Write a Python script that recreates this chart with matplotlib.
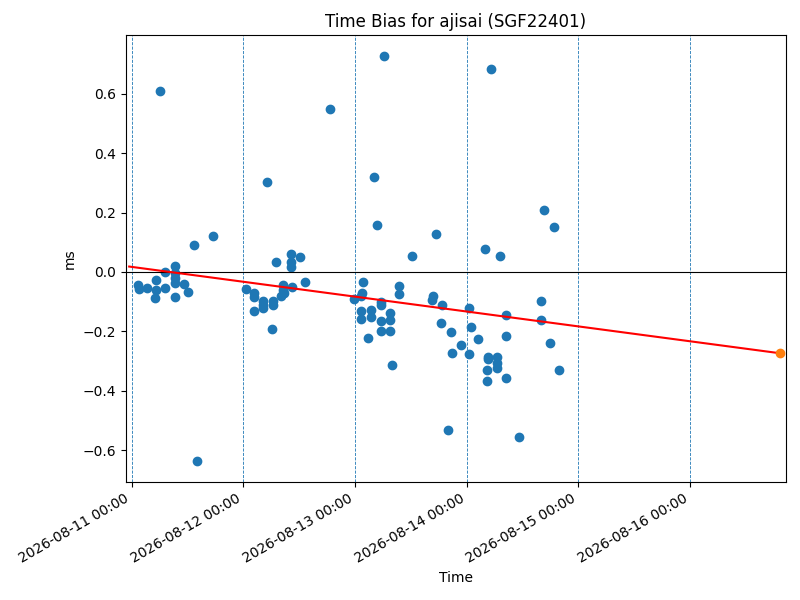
import matplotlib

matplotlib.use("Agg")
import matplotlib.dates as mdates
import matplotlib.pyplot as plt
import numpy as np
import pandas as pd

TITLE = "Time Bias for ajisai (SGF22401)"

obs_times = [
    "2026-08-11 01:18", "2026-08-11 01:38", "2026-08-11 03:26", "2026-08-11 05:13",
    "2026-08-11 05:13", "2026-08-11 05:04", "2026-08-11 06:07", "2026-08-11 07:12",
    "2026-08-11 07:12", "2026-08-11 09:20", "2026-08-11 09:20", "2026-08-11 09:20",
    "2026-08-11 09:20", "2026-08-11 09:20", "2026-08-11 11:17", "2026-08-11 12:04",
    "2026-08-11 13:25", "2026-08-11 14:00", "2026-08-11 17:25",
    "2026-08-12 00:30", "2026-08-12 02:13", "2026-08-12 02:13", "2026-08-12 02:25",
    "2026-08-12 04:12", "2026-08-12 04:12", "2026-08-12 04:12", "2026-08-12 05:04",
    "2026-08-12 06:13", "2026-08-12 06:20", "2026-08-12 06:20", "2026-08-12 07:04",
    "2026-08-12 08:09", "2026-08-12 08:30", "2026-08-12 08:30", "2026-08-12 08:51",
    "2026-08-12 10:21", "2026-08-12 10:21", "2026-08-12 10:21", "2026-08-12 10:23",
    "2026-08-12 12:17", "2026-08-12 13:21", "2026-08-12 18:33",
    "2026-08-12 23:51", "2026-08-13 01:25", "2026-08-13 01:25", "2026-08-13 01:38",
    "2026-08-13 01:22", "2026-08-13 01:47", "2026-08-13 02:54", "2026-08-13 03:26",
    "2026-08-13 03:26", "2026-08-13 04:08", "2026-08-13 04:51", "2026-08-13 05:34",
    "2026-08-13 05:34", "2026-08-13 05:34", "2026-08-13 05:34", "2026-08-13 06:20",
    "2026-08-13 07:30", "2026-08-13 07:30", "2026-08-13 07:34", "2026-08-13 08:04",
    "2026-08-13 09:33", "2026-08-13 09:33", "2026-08-13 12:20", "2026-08-13 16:38",
    "2026-08-13 16:51", "2026-08-13 17:30", "2026-08-13 18:33", "2026-08-13 18:46",
    "2026-08-13 20:00", "2026-08-13 20:42", "2026-08-13 20:55", "2026-08-13 22:50",
    "2026-08-14 00:33", "2026-08-14 00:33", "2026-08-14 00:59", "2026-08-14 02:30",
    "2026-08-14 03:55", "2026-08-14 04:25", "2026-08-14 04:25", "2026-08-14 04:30",
    "2026-08-14 04:30", "2026-08-14 05:16", "2026-08-14 06:38", "2026-08-14 06:38",
    "2026-08-14 06:38", "2026-08-14 07:12", "2026-08-14 08:29", "2026-08-14 08:29",
    "2026-08-14 08:29", "2026-08-14 11:12", "2026-08-14 15:55", "2026-08-14 15:55",
    "2026-08-14 16:38", "2026-08-14 17:51", "2026-08-14 18:46", "2026-08-14 19:47",
]

bias_ms = [
    -0.044, -0.058, -0.055, -0.027,
    -0.061, -0.089, 0.608, -0.001,
    -0.055, 0.020, -0.004, -0.020,
    -0.038, -0.085, -0.040, -0.068,
    0.091, -0.636, 0.121,
    -0.057, -0.072, -0.086, -0.132,
    -0.097, -0.113, -0.122, 0.302,
    -0.193, -0.097, -0.113, 0.034,
    -0.081, -0.045, -0.061, -0.072,
    0.061, 0.035, 0.018, -0.052,
    0.049, -0.035, 0.548,
    -0.092, -0.132, -0.159, -0.072,
    -0.081, -0.035, -0.222, -0.128,
    -0.153, 0.320, 0.158, -0.100,
    -0.113, -0.164, -0.199, 0.727,
    -0.162, -0.199, -0.139, -0.313,
    -0.048, -0.074, 0.052, -0.094,
    -0.080, 0.128, -0.172, -0.111,
    -0.532, -0.203, -0.274, -0.247,
    -0.122, -0.276, -0.186, -0.227,
    0.077, -0.330, -0.368, -0.285,
    -0.294, 0.682, -0.285, -0.307,
    -0.324, 0.054, -0.146, -0.217,
    -0.358, -0.557, -0.099, -0.162,
    0.208, -0.240, 0.150, -0.330,
]

# trend line: start of the fit and the predicted epoch
trend_times = ["2026-08-10 23:30", "2026-08-16 19:20"]
trend_ms = [0.018, -0.274]

day_marks = pd.date_range("2026-08-11", "2026-08-16", freq="D")
x_limits = ("2026-08-10 22:49", "2026-08-16 20:33")

times = pd.to_datetime(obs_times)
values = np.array(bias_ms)
line_t = pd.to_datetime(trend_times)
line_v = np.array(trend_ms)

fig, ax = plt.subplots(figsize=(8, 6), dpi=100)

for day in day_marks:
    ax.axvline(day, color="C0", linestyle="--", linewidth=0.6)
ax.axhline(0, color="black", linewidth=0.8)

ax.scatter(times, values, color="C0")
ax.plot(line_t, line_v, color="red")
ax.scatter(line_t[-1:], line_v[-1:], color="C1", zorder=3)

ax.set_xlim(pd.to_datetime(x_limits[0]), pd.to_datetime(x_limits[1]))
ax.set_ylim(-0.707, 0.798)
ax.xaxis.set_major_locator(mdates.DayLocator())
ax.xaxis.set_major_formatter(mdates.DateFormatter("%Y-%m-%d %H:%M"))
fig.autofmt_xdate()
fig.subplots_adjust(left=0.1575, right=0.982, top=0.9417, bottom=0.197)

ax.set_title(TITLE)
ax.set_xlabel("Time")
ax.set_ylabel("ms")

fig.savefig("out.png")
